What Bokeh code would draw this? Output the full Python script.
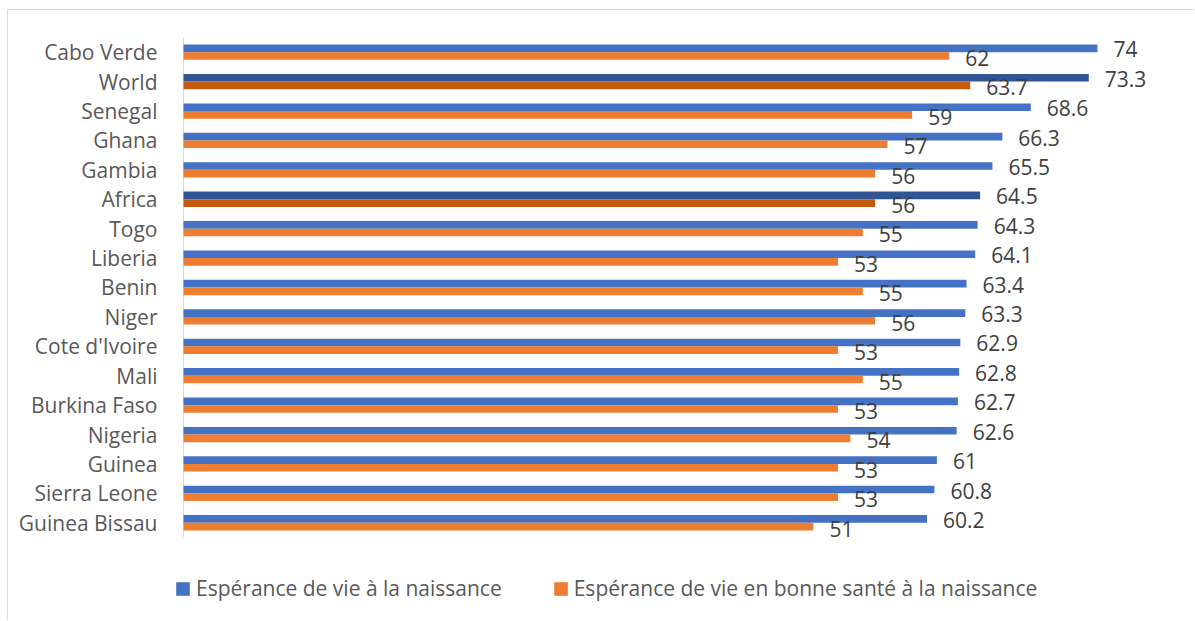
from bokeh.plotting import figure
from bokeh.models import ColumnDataSource, Range1d, Legend, LegendItem, FixedTicker
from bokeh.transform import dodge
from bokeh.core.properties import value
from bokeh.embed import file_html
from bokeh.resources import INLINE

countries = ["Cabo Verde", "World", "Senegal", "Ghana", "Gambia", "Africa", "Togo",
             "Liberia", "Benin", "Niger", "Cote d'Ivoire", "Mali", "Burkina Faso",
             "Nigeria", "Guinea", "Sierra Leone", "Guinea Bissau"]
life_expectancy = [74, 73.3, 68.6, 66.3, 65.5, 64.5, 64.3, 64.1, 63.4, 63.3, 62.9,
                   62.8, 62.7, 62.6, 61, 60.8, 60.2]
healthy_life = [62, 63.7, 59, 57, 56, 56, 55, 53, 55, 56, 53, 55, 53, 54, 53, 53, 51]
series_names = ["Espérance de vie à la naissance",
                "Espérance de vie en bonne santé à la naissance"]
highlight = ["World", "Africa"]

blue, blue_dark = "#4472C4", "#2F5597"
orange, orange_dark = "#ED7D31", "#C55A11"

def fmt(v):
    return str(int(v)) if float(v).is_integer() else str(v)

n = len(countries)
pos = list(range(n))  # row index, 0 = top row

src = ColumnDataSource(dict(
    pos=pos,
    country=countries,
    life=life_expectancy,
    healthy=healthy_life,
    life_lbl=[fmt(v) for v in life_expectancy],
    healthy_lbl=[fmt(v) for v in healthy_life],
    c_life=[blue_dark if c in highlight else blue for c in countries],
    c_healthy=[orange_dark if c in highlight else orange for c in countries],
))

FONT = "Open Sans"
FS = "21px"

# geometry (screen px)
row_px = 29.41
frame_h = 584
y_bottom = -0.5 + frame_h / row_px

p = figure(width=1187, height=611, output_backend="svg", toolbar_location=None,
           x_range=Range1d(-1.0526, 81.94),
           y_range=Range1d(y_bottom, -0.5),
           min_border_left=162, min_border_right=0, min_border_top=27, min_border_bottom=0)
p.styles = {"margin-left": "7px", "margin-top": "9px",
            "border-left": "1px solid #D9D9D9", "border-top": "1px solid #D9D9D9"}
p.outline_line_color = None
p.xgrid.visible = False
p.ygrid.visible = False
p.xaxis.visible = False

ax = p.yaxis[0]
ax.ticker = FixedTicker(ticks=pos)
ax.major_label_overrides = {i: c for i, c in zip(pos, countries)}
ax.bounds = (-0.5, n - 0.5)
ax.axis_line_color = None
ax.major_tick_line_color = None
ax.minor_tick_line_color = None
ax.major_label_standoff = 7
ax.major_label_text_font = FONT
ax.major_label_text_font_size = FS
ax.major_label_text_color = "#595959"

# category axis line at value 0
p.segment(x0=0, y0=-0.5, x1=0, y1=n - 0.5, line_color="#D9D9D9", line_width=1)

h = 0.26
off = 0.13
r1 = p.hbar(y=dodge("pos", -off), right="life", left=0, height=h,
            fill_color="c_life", line_color=None, source=src)
r2 = p.hbar(y=dodge("pos", off), right="healthy", left=0, height=h,
            fill_color="c_healthy", line_color=None, source=src)

p.text(x="life", y=dodge("pos", -off), text="life_lbl", source=src,
       x_offset=16, y_offset=1, text_baseline="middle", text_align="left",
       text_font=value(FONT), text_font_size=FS, text_color="#404040")
p.text(x="healthy", y=dodge("pos", off), text="healthy_lbl", source=src,
       x_offset=16, y_offset=2, text_baseline="middle", text_align="left",
       text_font=value(FONT), text_font_size=FS, text_color="#404040")

legend = Legend(items=[LegendItem(label=series_names[0], renderers=[r1], index=0),
                       LegendItem(label=series_names[1], renderers=[r2], index=0)],
                orientation="horizontal", location=(4, 19),
                glyph_width=17, glyph_height=17, label_height=24, label_standoff=5, spacing=50,
                padding=0, margin=0, border_line_color=None, background_fill_alpha=0,
                label_text_font=FONT, label_text_font_size=FS, label_text_color="#595959")
p.add_layout(legend, "center")

open("out.html", "w").write(file_html(p, INLINE))
